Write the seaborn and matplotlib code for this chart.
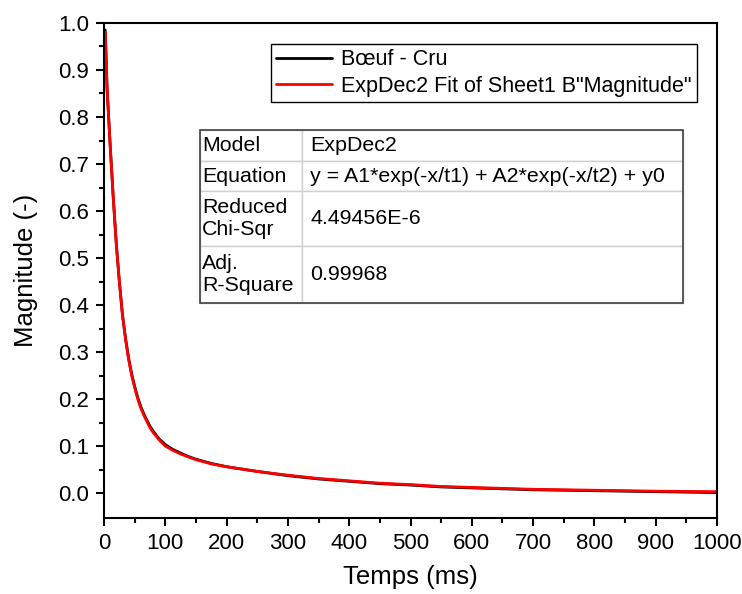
import pandas as pd
import numpy as np
import matplotlib
matplotlib.use('Agg')
import matplotlib.pyplot as plt
import seaborn as sns

# valeurs
temps = [2, 5, 10, 15, 20, 25, 30, 35, 40, 45, 50, 55, 60, 65, 70, 75, 80, 90,
         100, 112, 125, 137, 150, 175, 200, 250, 300, 350, 400, 450, 500, 550,
         600, 650, 700, 750, 800, 850, 900, 950, 1000]
mag_cru = [0.985, 0.86, 0.74, 0.63, 0.53, 0.45, 0.38, 0.33, 0.288, 0.254, 0.227,
           0.203, 0.184, 0.168, 0.155, 0.142, 0.132, 0.115, 0.103, 0.093, 0.085,
           0.078, 0.072, 0.063, 0.056, 0.046, 0.037, 0.030, 0.025, 0.020, 0.017,
           0.013, 0.011, 0.009, 0.007, 0.006, 0.005, 0.004, 0.003, 0.002, 0.001]
mag_fit = [0.98, 0.86, 0.74, 0.63, 0.53, 0.45, 0.38, 0.328, 0.285, 0.251, 0.224,
           0.2, 0.181, 0.165, 0.152, 0.139, 0.129, 0.113, 0.100, 0.091, 0.083,
           0.077, 0.071, 0.062, 0.056, 0.046, 0.038, 0.031, 0.026, 0.021, 0.018,
           0.014, 0.012, 0.010, 0.008, 0.007, 0.006, 0.005, 0.004, 0.0035, 0.003]

noms = ['Bœuf - Cru', 'ExpDec2 Fit of Sheet1 B"Magnitude"']
table_lignes = [['Model', 'ExpDec2'],
                ['Equation', 'y = A1*exp(-x/t1) + A2*exp(-x/t2) + y0'],
                ['Reduced\nChi-Sqr', '4.49456E-6'],
                ['Adj.\nR-Square', '0.99968']]

df = pd.DataFrame({'Temps': temps, 'Cru': mag_cru, 'Fit': mag_fit})

sns.set_style('ticks')
plt.rcParams['font.family'] = ['Liberation Sans', 'DejaVu Sans']
plt.rcParams['text.color'] = 'black'
plt.rcParams['axes.labelcolor'] = 'black'

fig = plt.figure(figsize=(7.42, 5.94), dpi=100)
ax = fig.add_axes([0.1402, 0.128, 0.8261, 0.8333])

sns.lineplot(data=df, x='Temps', y='Cru', color='black', linewidth=2, label=noms[0], ax=ax)
sns.lineplot(data=df, x='Temps', y='Fit', color='red', linewidth=2, label=noms[1], ax=ax)

ax.set_xlim(0, 1000)
ax.set_ylim(-0.053, 1.0)
ax.set_xticks(np.arange(0, 1001, 100))
ax.set_xticks(np.arange(50, 1000, 100), minor=True)
ax.set_yticks(np.arange(0, 1.01, 0.1))
ax.set_yticks(np.arange(0.05, 1.0, 0.1), minor=True)
ax.yaxis.set_major_formatter(matplotlib.ticker.FormatStrFormatter('%.1f'))
ax.tick_params(which='major', length=6, width=1.5, labelsize=16, pad=5,
               direction='out', colors='black')
ax.tick_params(which='minor', length=3.5, width=1.5, direction='out', colors='black')
for s in ax.spines.values():
    s.set_linewidth(1.5)
    s.set_color('black')

ax.set_xlabel('Temps (ms)', fontsize=18.5, labelpad=8)
ax.set_ylabel('Magnitude (-)', fontsize=18.5, labelpad=14)

leg = ax.legend(loc='upper right', bbox_to_anchor=(0.967, 0.958), borderaxespad=0,
                fontsize=15.5, fancybox=False, framealpha=1, edgecolor='black',
                handlelength=2.6, handletextpad=0.4, borderpad=0.25, labelspacing=0.25)
leg.get_frame().set_linewidth(1.0)

tab = ax.table(cellText=table_lignes, cellLoc='left', colWidths=[0.211, 0.789],
               bbox=[0.1566, 0.4343, 0.788, 0.3495])
tab.auto_set_font_size(False)
tab.set_fontsize(15.4)
hauteurs = [31, 30, 55, 57]
for (r, c), cell in tab.get_celld().items():
    cell.set_height(hauteurs[r] / 173)
    cell.set_edgecolor('#d0d0d0')
    cell.set_linewidth(1.0)
    cell.PAD = 0.022
    cell.get_text().set_color('black')
tab.set_zorder(5)
cadre = plt.Rectangle((0.1566, 0.4343), 0.788, 0.3495, transform=ax.transAxes,
                      fill=False, edgecolor='#404040', linewidth=1.2, zorder=6)
ax.add_patch(cadre)

fig.savefig('out.png', dpi=100)
